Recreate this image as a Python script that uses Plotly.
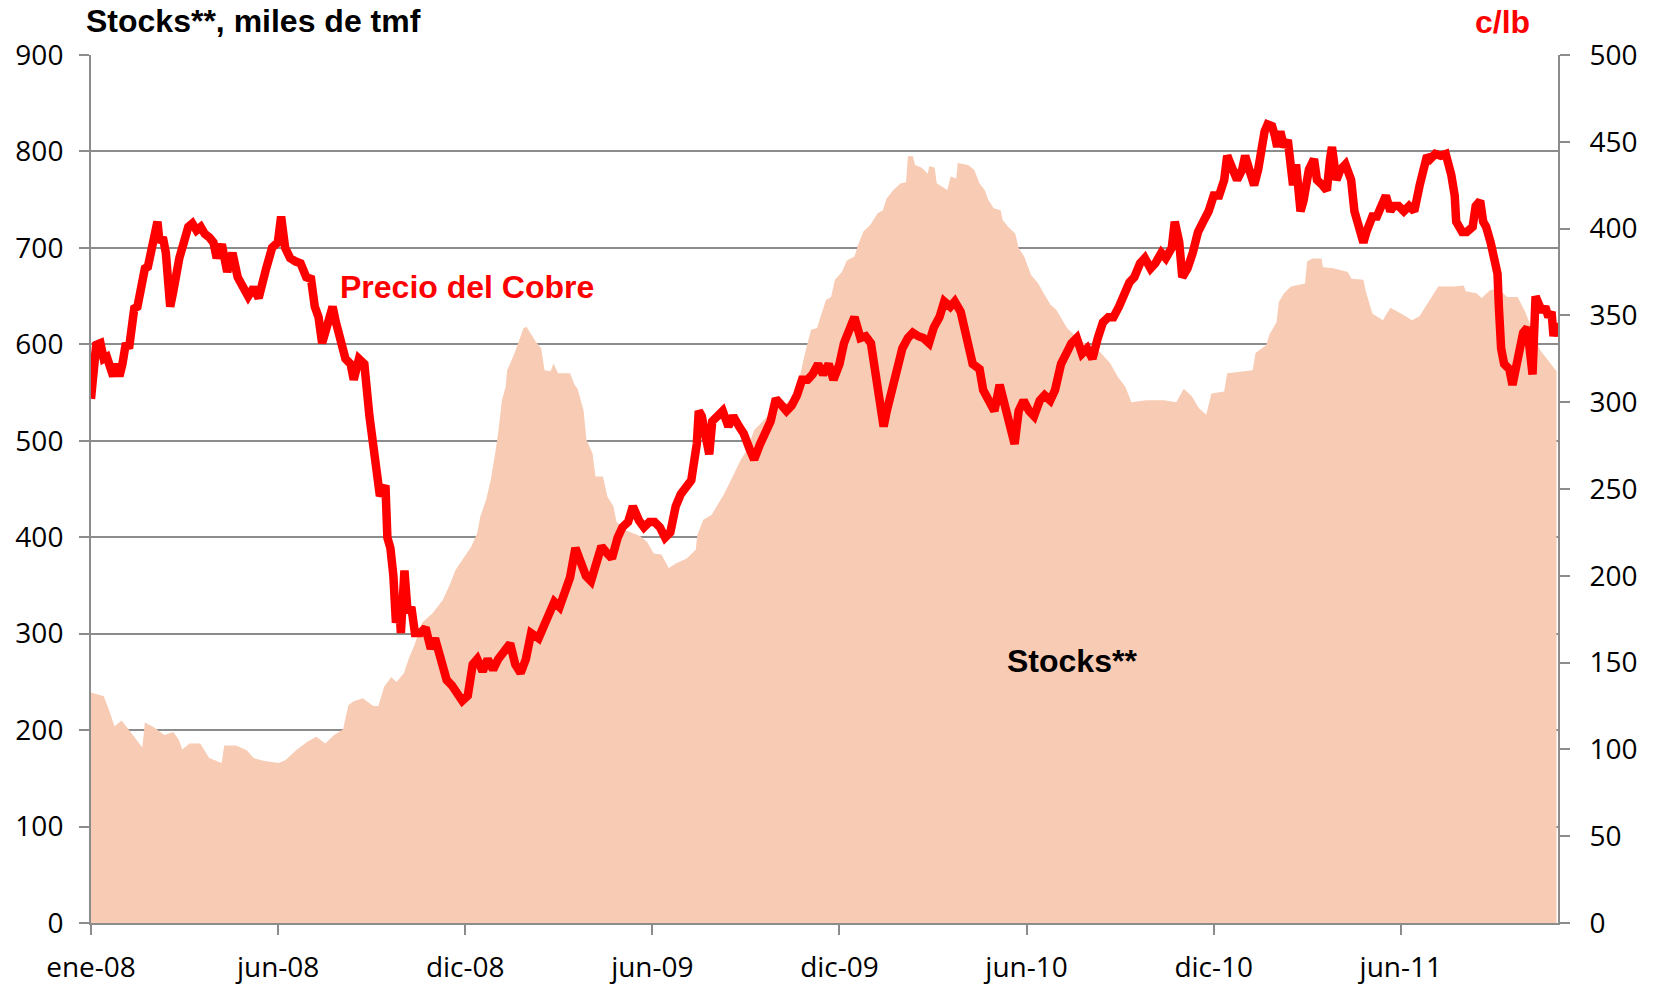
import plotly.graph_objects as go

# x positions are trading-day indices (one label every 125 trading days)
tick_days = [0, 125, 250, 375, 500, 625, 750, 875]
tick_labels = ["ene-08", "jun-08", "dic-08", "jun-09", "dic-09", "jun-10", "dic-10", "jun-11"]

# LME copper stocks, thousand tonnes (left axis)
stock_days = [0, 8.5, 12, 15.7, 20.5, 24, 30, 34.3, 36, 42, 49, 55, 58.6, 61, 65.8, 73, 78.9, 87.3, 89,
              96.8, 104, 108.7, 115.9, 125.4, 130, 137, 144.5, 150.5, 156.5, 162.4, 168.4, 172, 175.5,
              181.5, 188.6, 192, 195.8, 200.6, 204, 209, 212.5, 216, 221, 228, 235, 240, 243.5, 249.5,
              254, 258, 260, 264, 267, 270, 272, 274.5, 277, 278, 283, 289, 291, 295, 297, 300.7, 303,
              307, 309, 312, 320, 323, 325, 329, 331, 335, 337, 342, 345, 349, 351, 356, 362, 367,
              371.5, 376, 381, 386, 391, 398, 404, 405, 409, 414.5, 418, 423, 429, 434, 438, 443, 453,
              467, 472, 477, 481, 485, 488.5, 491, 494.4, 497, 501.6, 505, 510, 512.4, 516, 520.7,
              525.5, 529, 531.4, 536, 541, 544.5, 545.7, 549, 550.5, 555, 559, 560, 563.6, 565, 572,
              574.4, 578, 579, 586, 590, 593.5, 597, 599.4, 603, 607.7, 609, 612.6, 617.4, 619.7,
              623.4, 628, 632.8, 636.4, 641, 644.7, 648.3, 652, 660, 667, 674, 681, 686, 691, 695,
              705, 717, 725, 730, 735.5, 740, 745, 748.5, 757, 759, 768.6, 776, 778, 785, 787.5, 792,
              793.5, 797, 801.6, 811, 812.4, 816, 822, 823, 830, 839.6, 842, 850, 851.4, 856, 863,
              868, 875, 882.5, 887.5, 895, 900, 910, 917, 918.4, 925.5, 929, 934.5, 940, 946, 953,
              958, 968, 973, 979]
stock_values = [239, 235, 221, 204, 210, 203, 190, 182, 208, 203, 195, 198, 190, 180, 186, 186, 171, 166, 184,
                184, 179, 171, 168, 166, 169, 179, 188, 193, 186, 195, 201, 226, 230,
                233, 225, 225, 245, 255, 250, 259, 275, 288, 311, 321, 335, 352, 366, 380,
                390, 404, 421, 439, 459, 487, 508, 542, 556, 573, 591, 617, 618, 608, 603, 596, 573,
                572, 580, 570, 570, 558, 554, 532, 501, 487, 463, 463, 442, 432, 416, 408, 404, 401,
                395, 383, 382, 368, 373, 378, 387, 402, 418, 423, 432, 445, 464, 480, 490, 511, 527,
                542, 556, 591, 615, 617, 634, 646, 649, 667, 675, 687, 691, 703, 717, 724,
                736, 739, 751, 760, 767, 768, 795, 795, 786, 783, 777, 785, 783, 767, 760,
                774, 772, 788, 786, 781, 767, 760, 750, 741, 739, 729, 722, 715, 700,
                691, 672, 663, 653, 641, 636, 627, 617, 605, 598, 592, 580, 566, 556, 540,
                542, 542, 540, 554, 546, 534, 527, 549, 551, 570, 572, 573, 591, 599, 611, 623,
                644, 653, 660, 663, 686, 689, 689, 680, 679, 675, 668, 667, 656, 632, 625,
                638, 632, 625, 629, 648, 660, 660, 661, 655, 653, 648, 656, 658, 649, 649,
                634, 594, 584, 572]

# Copper price, US cents per pound (right axis)
price_days = [0, 1.4, 3.5, 6.3, 8.5, 10.6, 12.7, 14.8, 16.9, 19, 21, 23.3, 25.4, 26.8, 28.9, 31, 33.8, 36,
              38, 40, 43, 44.4, 45.8, 48, 50, 51.5, 52.9, 55, 57, 59, 62, 65, 67.7, 70.5, 73.3, 76, 79,
              81.8, 84, 87.4, 91, 94.5, 98, 101.5, 105, 108.6, 112, 117, 121, 124.8, 127, 129.7, 133,
              136.8, 140, 143.8, 147, 149.5, 152, 154.4, 158, 161.4, 163.6, 166.4, 170, 173.4, 175.5,
              179, 182.6, 186, 189.6, 193, 196.7, 198, 200, 202, 203.7, 206, 207, 209.4, 211.5, 214,
              216.4, 220, 223.5, 227, 229.8, 233.4, 237.6, 241, 244.6, 248, 251.7, 255, 258, 261.6,
              265, 268.6, 272, 276.4, 280, 283.4, 287, 290.5, 294, 299, 302.4, 306, 309.5, 313, 316.5,
              320, 323.6, 327, 330.6, 334, 337.7, 341, 344.7, 348, 351.8, 355, 358.8, 362, 366, 369.4,
              373, 376.5, 380, 383.5, 387, 390.6, 394, 397.6, 401, 404.7, 406, 408, 410, 413, 415,
              418.8, 422, 425.8, 429, 433, 436, 440, 443, 447, 450.5, 454, 457.5, 461, 464.6, 468,
              471.6, 475, 478.7, 482, 485.7, 489, 492.8, 496, 500, 503, 507, 510, 514, 517.5, 521,
              524.5, 526.6, 529.5, 531.6, 535, 538.6, 542, 545.7, 549, 552.7, 556, 559.8, 563, 566.8,
              570, 574, 577, 581, 583, 586.6, 589, 593.6, 596, 600, 603.5, 607, 610.5, 614, 617,
              619.7, 623, 626.7, 630, 633.8, 637, 640.8, 644, 648, 651, 655, 658.5, 662, 665.5, 669,
              672.6, 676, 679.6, 683, 686.7, 690, 693.7, 697, 700.8, 704, 707.8, 711, 715, 718, 722,
              724, 727, 729, 732.5, 736, 739.5, 743, 746.6, 750, 753.6, 757, 759, 762.8, 765.6, 769,
              771, 774.8, 777, 779.7, 781.8, 784, 786, 789, 791, 792.4, 794.5, 797, 799.5, 803, 805,
              808, 810, 813.6, 817, 819, 822.7, 825.6, 827.7, 829, 832, 834.7, 838, 841.8, 844,
              846.7, 850, 852, 856, 859, 863, 865, 868, 870, 873.5, 877, 880.5, 884, 887.6, 889.7,
              892.5, 894.6, 898, 901.7, 905, 908.7, 911, 912, 916, 919, 923, 925, 928, 930, 932, 935,
              937, 939.6, 940.5, 942, 944, 947.5, 949.6, 952.5, 954.6, 956.7, 959.5, 961.6, 963,
              965, 967, 969.4, 971.5, 973.6, 975.7, 977, 979]
price_values = [302, 318, 333, 334, 325, 326, 319, 315, 322, 315, 322, 334, 331, 346, 354, 355, 369, 377,
                378, 386, 393, 404, 392, 395, 386, 374, 355, 364, 377, 383, 392, 401, 403, 399, 401, 397, 395,
                392, 383, 391, 375, 386, 372, 367, 361, 366, 360, 377, 389, 392, 407, 389, 383,
                381, 380, 372, 371, 355, 349, 334, 346, 355, 346, 337, 325, 322, 313,
                325, 322, 292, 264, 246, 252, 222, 216, 200, 173, 182, 167, 203, 179, 182,
                167, 167, 170, 158, 164, 152, 140, 137, 131, 128, 131, 149, 152, 145,
                152, 146, 152, 158, 161, 149, 144, 152, 167, 164, 170, 179, 185, 182, 191,
                199, 216, 207, 200, 197, 210, 217, 213, 210, 222, 228, 231, 240, 232, 228,
                231, 231, 228, 222, 225, 240, 247, 252, 255, 276, 295, 292, 282, 270, 289,
                292, 295, 286, 292, 286, 282, 273, 267, 276, 282, 289, 302, 298, 295, 298,
                304, 313, 313, 316, 322, 316, 322, 313, 322, 334, 343, 349, 337, 338, 334,
                316, 304, 286, 295, 307, 319, 331, 337, 340, 338, 337, 334, 343, 349,
                358, 355, 358, 352, 346, 331, 322, 319, 307, 301, 295, 310, 298, 289, 276,
                295, 301, 295, 292, 301, 304, 301, 307, 322, 328, 334, 337, 328, 331, 325,
                337, 346, 349, 349, 355, 361, 369, 372, 380, 383, 377, 380, 386, 383, 389,
                404, 392, 372, 377, 386, 398, 404, 410, 419, 419, 428, 442, 434, 428, 434,
                442, 431, 425, 434, 447, 456, 460, 459, 453, 447, 456, 447, 451, 425, 437,
                410, 416, 434, 440, 428, 425, 422, 440, 447, 428, 434, 437, 428, 410,
                401, 392, 398, 407, 407, 416, 419, 410, 413, 413, 410, 413, 410, 425, 434,
                442, 440, 443, 442, 443, 431, 419, 404, 398, 398, 401, 413, 416, 404, 401, 392,
                386, 374, 355, 331, 322, 319, 310, 322, 331, 340, 343, 322, 316,
                361, 358, 352, 355, 349, 352, 338, 346]

GRID = "#8c8c8c"
TICKFONT = dict(family="Open Sans", size=28, color="black")

fig = go.Figure()
fig.add_trace(go.Scatter(
    x=stock_days, y=stock_values, mode="lines", fill="tozeroy",
    line=dict(width=0, color="#f8cbb4"), fillcolor="#f8cbb4",
    yaxis="y", hoverinfo="skip", name="Stocks**"))
fig.add_trace(go.Scatter(
    x=price_days, y=price_values, mode="lines",
    line=dict(width=8.5, color="#ff0000"),
    yaxis="y2", name="Precio del Cobre"))

fig.update_layout(
    width=1655, height=984,
    margin=dict(l=91, r=97, t=55, b=61, autoexpand=False),
    plot_bgcolor="white", paper_bgcolor="white",
    showlegend=False,
    xaxis=dict(range=[0, 980], tickvals=tick_days, ticktext=tick_labels,
               ticks="outside", ticklen=10, tickwidth=2, tickcolor=GRID,
               showline=True, linecolor=GRID, linewidth=2,
               showgrid=False, zeroline=False, tickfont=TICKFONT,
               ticklabelstandoff=8),
    yaxis=dict(range=[0, 900], dtick=100, showgrid=True, gridcolor=GRID, gridwidth=2,
               ticks="outside", ticklen=10, tickwidth=2, tickcolor=GRID,
               showline=True, linecolor=GRID, linewidth=2, zeroline=False,
               tickfont=TICKFONT, ticklabelstandoff=10),
    yaxis2=dict(range=[0, 500], dtick=50, overlaying="y", side="right",
                showgrid=False, ticks="outside", ticklen=10, tickwidth=2, tickcolor=GRID,
                showline=True, linecolor=GRID, linewidth=2, zeroline=False,
                tickfont=TICKFONT, ticklabelstandoff=14),
)

BOLD = "Liberation Sans"
fig.add_annotation(text="<b>Stocks**, miles de tmf</b>", xref="paper", yref="paper",
                   x=-0.005, y=1.039, xanchor="left", yanchor="middle", showarrow=False,
                   font=dict(family=BOLD, size=32, color="black"))
fig.add_annotation(text="<b>c/lb</b>", xref="paper", yref="paper",
                   x=0.962, y=1.038, xanchor="center", yanchor="middle", showarrow=False,
                   font=dict(family=BOLD, size=32, color="#ff0000"))
fig.add_annotation(text="<b>Precio del Cobre</b>", xref="paper", yref="paper",
                   x=0.2563, y=0.7327, xanchor="center", yanchor="middle", showarrow=False,
                   font=dict(family=BOLD, size=32, color="#ff0000"))
fig.add_annotation(text="<b>Stocks**</b>", xref="paper", yref="paper",
                   x=0.6687, y=0.3018, xanchor="center", yanchor="middle", showarrow=False,
                   font=dict(family=BOLD, size=32, color="black"))

fig.write_html("out.html", config={"displayModeBar": False},
               post_script="document.body.style.margin='0';document.body.style.overflow='hidden';")
